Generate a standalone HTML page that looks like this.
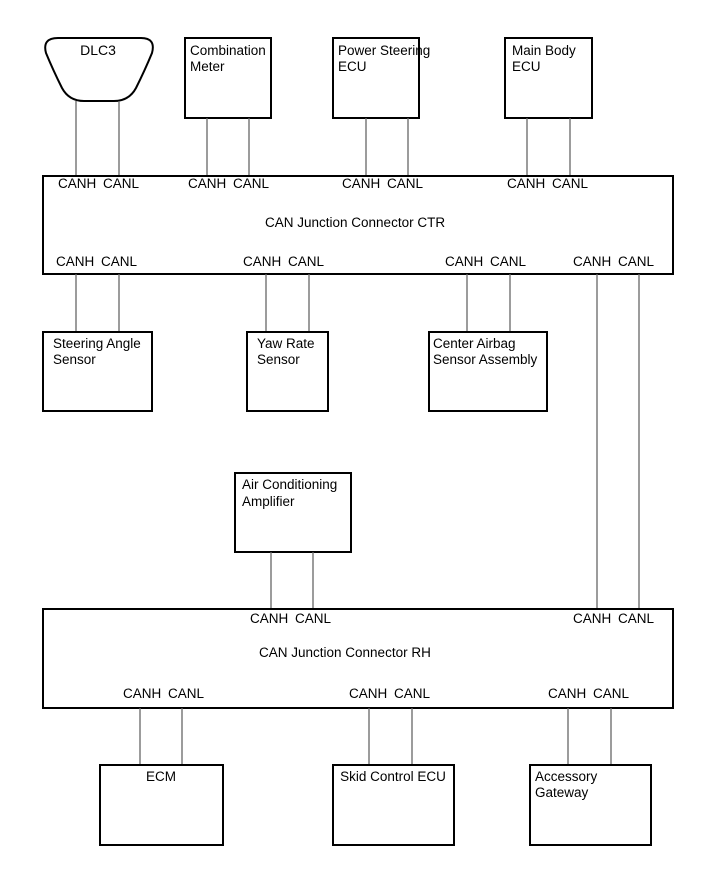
<!DOCTYPE html>
<html><head><style>
html,body{margin:0;padding:0;background:#fff;}
svg{display:block;}
text{font-family:"Liberation Sans",Arial,sans-serif;font-size:13.5px;fill:#000;}
.b{fill:none;stroke:#000;stroke-width:2;}
.l{stroke:#666;stroke-width:1.3;}
</style></head><body>
<svg width="713" height="882" viewBox="0 0 713 882" xmlns="http://www.w3.org/2000/svg">
<!-- DLC3 -->
<path class="b" d="M58,38 L141,38 Q156,38 152,53 Q145,70 136,88 Q129,101 114,101 L84,101 Q69,101 62,88 Q53,70 46,53 Q42,38 58,38 Z"/>
<text x="98" y="55" text-anchor="middle" style="font-size:14px">DLC3</text>
<line class="l" x1="76" y1="101" x2="76" y2="176"/><line class="l" x1="119" y1="101" x2="119" y2="176"/>
<!-- Combination Meter -->
<rect class="b" x="185" y="38" width="86" height="80"/>
<text x="190" y="55">Combination</text><text x="190" y="71">Meter</text>
<line class="l" x1="207" y1="118" x2="207" y2="176"/><line class="l" x1="249" y1="118" x2="249" y2="176"/>
<!-- Power Steering -->
<rect class="b" x="333" y="38" width="86" height="80"/>
<text x="338" y="55">Power Steering</text><text x="338" y="71">ECU</text>
<line class="l" x1="366" y1="118" x2="366" y2="176"/><line class="l" x1="408" y1="118" x2="408" y2="176"/>
<!-- Main Body -->
<rect class="b" x="505" y="38" width="87" height="80"/>
<text x="512" y="55">Main Body</text><text x="512" y="71">ECU</text>
<line class="l" x1="527" y1="118" x2="527" y2="176"/><line class="l" x1="570" y1="118" x2="570" y2="176"/>
<!-- CTR -->
<rect class="b" x="43" y="176" width="630" height="98"/>
<text x="58" y="188">CANH</text><text x="103" y="188">CANL</text>
<text x="188" y="188">CANH</text><text x="233" y="188">CANL</text>
<text x="342" y="188">CANH</text><text x="387" y="188">CANL</text>
<text x="507" y="188">CANH</text><text x="552" y="188">CANL</text>
<text x="265" y="227">CAN Junction Connector CTR</text>
<text x="56" y="266">CANH</text><text x="101" y="266">CANL</text>
<text x="243" y="266">CANH</text><text x="288" y="266">CANL</text>
<text x="445" y="266">CANH</text><text x="490" y="266">CANL</text>
<text x="573" y="266">CANH</text><text x="618" y="266">CANL</text>
<line class="l" x1="76" y1="274" x2="76" y2="332"/><line class="l" x1="119" y1="274" x2="119" y2="332"/>
<line class="l" x1="266" y1="274" x2="266" y2="332"/><line class="l" x1="309" y1="274" x2="309" y2="332"/>
<line class="l" x1="467" y1="274" x2="467" y2="332"/><line class="l" x1="510" y1="274" x2="510" y2="332"/>
<line class="l" x1="597" y1="274" x2="597" y2="609"/><line class="l" x1="639" y1="274" x2="639" y2="609"/>
<rect class="b" x="43" y="332" width="109" height="79"/>
<text x="53" y="348">Steering Angle</text><text x="53" y="364">Sensor</text>
<rect class="b" x="247" y="332" width="81" height="79"/>
<text x="257" y="348">Yaw Rate</text><text x="257" y="364">Sensor</text>
<rect class="b" x="429" y="332" width="118" height="79"/>
<text x="433" y="348">Center Airbag</text><text x="433" y="364">Sensor Assembly</text>
<!-- AC -->
<rect class="b" x="235" y="473" width="116" height="79"/>
<text x="242" y="489">Air Conditioning</text><text x="242" y="506">Amplifier</text>
<line class="l" x1="271" y1="552" x2="271" y2="609"/><line class="l" x1="313" y1="552" x2="313" y2="609"/>
<!-- RH -->
<rect class="b" x="43" y="609" width="630" height="99"/>
<text x="250" y="623">CANH</text><text x="295" y="623">CANL</text>
<text x="573" y="623">CANH</text><text x="618" y="623">CANL</text>
<text x="259" y="657">CAN Junction Connector RH</text>
<text x="123" y="698">CANH</text><text x="168" y="698">CANL</text>
<text x="349" y="698">CANH</text><text x="394" y="698">CANL</text>
<text x="548" y="698">CANH</text><text x="593" y="698">CANL</text>
<line class="l" x1="140" y1="708" x2="140" y2="765"/><line class="l" x1="182" y1="708" x2="182" y2="765"/>
<line class="l" x1="369" y1="708" x2="369" y2="765"/><line class="l" x1="412" y1="708" x2="412" y2="765"/>
<line class="l" x1="568" y1="708" x2="568" y2="765"/><line class="l" x1="611" y1="708" x2="611" y2="765"/>
<rect class="b" x="100" y="765" width="123" height="80"/>
<text x="161" y="781" text-anchor="middle">ECM</text>
<rect class="b" x="333" y="765" width="121" height="80"/>
<text x="393" y="781" text-anchor="middle">Skid Control ECU</text>
<rect class="b" x="530" y="765" width="121" height="80"/>
<text x="535" y="781">Accessory</text><text x="535" y="797">Gateway</text>
</svg>
</body></html>
